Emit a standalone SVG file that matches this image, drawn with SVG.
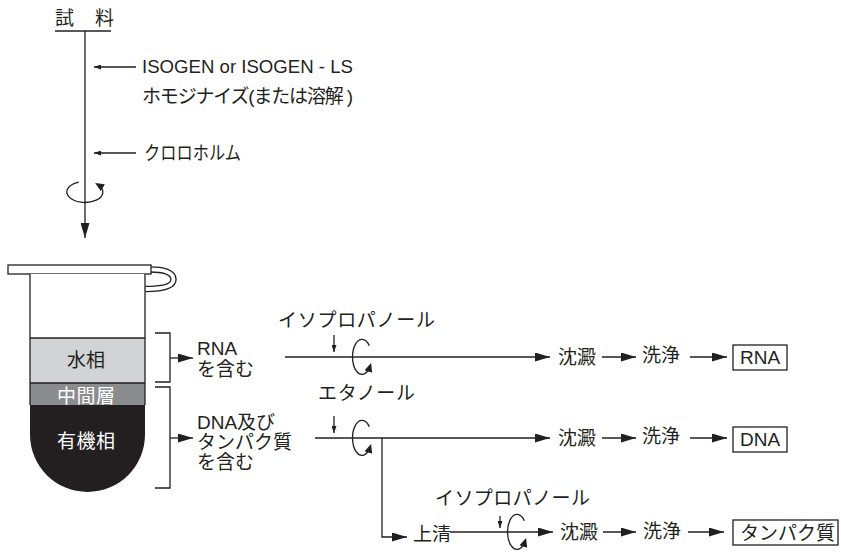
<svg xmlns="http://www.w3.org/2000/svg" width="841" height="553" viewBox="0 0 841 553">
  <style>
    .t { font-family: "Liberation Sans", "Noto Sans CJK JP", sans-serif; font-size: 19px; fill: #231f20; }
    .w { fill: #ffffff; }
    .ln { stroke: #231f20; stroke-width: 1.3; fill: none; }
    .big { marker-end: url(#ah); }
    .small { marker-end: url(#sh); }
    .spin { stroke: #231f20; stroke-width: 1.3; fill: none; marker-end: url(#rh); }
  </style>
  <defs>
    <marker id="ah" markerUnits="userSpaceOnUse" markerWidth="15" markerHeight="9" refX="15" refY="4.5" orient="auto">
      <path d="M0,0 L15,4.5 L0,9 Z" fill="#231f20"/>
    </marker>
    <marker id="sh" markerUnits="userSpaceOnUse" markerWidth="7" markerHeight="5" refX="7" refY="2.5" orient="auto">
      <path d="M0,0 L7,2.5 L0,5 Z" fill="#231f20"/>
    </marker>
    <marker id="rh" markerUnits="userSpaceOnUse" markerWidth="9" markerHeight="8" refX="6" refY="4" orient="auto">
      <path d="M0,0 L9,4 L0,8 Z" fill="#231f20"/>
    </marker>
  </defs>

  <rect width="841" height="553" fill="#ffffff"/>

  <!-- sample heading -->
  <g id="sample">
    <text class="t" x="55" y="25" font-size="18">試</text>
    <text class="t" x="95" y="25" font-size="18">料</text>
    <line class="ln" x1="55" y1="31" x2="111" y2="31"/>
  </g>

  <!-- reagents added to the sample -->
  <g id="reagent-isogen">
    <text class="t" x="142" y="73" font-size="18.5" textLength="211" lengthAdjust="spacingAndGlyphs">ISOGEN or ISOGEN - LS</text>
    <text class="t" x="142" y="103" font-size="18" textLength="211" lengthAdjust="spacing">ホモジナイズ(または溶解 )</text>
  </g>
  <g id="reagent-chloroform">
    <text class="t" x="144" y="160" font-size="17" textLength="97" lengthAdjust="spacingAndGlyphs">クロロホルム</text>
  </g>

  <!-- centrifuge tube with separated phases -->
  <g id="tube">
    <path d="M147,269.5 C163,269 173.5,272 173.5,279.5 C173.5,287 160,289 145.5,289" stroke="#231f20" stroke-width="6.5" fill="none"/>
    <path d="M147,269.5 C163,269 173.5,272 173.5,279.5 C173.5,287 160,289 145.5,289" stroke="#ffffff" stroke-width="3.8" fill="none"/>
    <rect x="8" y="265" width="143" height="9" fill="#ffffff" stroke="#231f20" stroke-width="1.3"/>
    <rect x="30" y="274" width="115" height="64" fill="#ffffff"/>
    <rect x="30" y="338" width="115" height="45" fill="#d1d3d4"/>
    <rect x="30" y="383" width="115" height="22" fill="#8b8c8e"/>
    <path d="M30,405 L145,405 L145,434.5 A57.5,57.5 0 0 1 30,434.5 Z" fill="#231f20"/>
    <line class="ln" x1="30" y1="274" x2="30" y2="405"/>
    <line class="ln" x1="145" y1="274" x2="145" y2="405"/>
    <line class="ln" x1="30" y1="338" x2="145" y2="338"/>
    <line class="ln" x1="30" y1="383" x2="145" y2="383"/>
    <text class="t" x="86" y="367" text-anchor="middle">水相</text>
    <text class="t w" x="86" y="403" text-anchor="middle" textLength="58" lengthAdjust="spacing">中間層</text>
    <text class="t w" x="86" y="448" text-anchor="middle" textLength="58" lengthAdjust="spacing">有機相</text>
  </g>

  <!-- phase contents -->
  <g id="label-rna-phase">
    <text class="t" x="197" y="355" font-size="18">RNA</text>
    <text class="t" x="197" y="376">を含む</text>
  </g>
  <g id="label-dna-phase">
    <text class="t" x="197" y="429">DNA及び</text>
    <text class="t" x="197" y="449">タンパク質</text>
    <text class="t" x="197" y="469">を含む</text>
  </g>

  <!-- reagent labels on the branches -->
  <g id="reagent-ipa-1">
    <text class="t" x="278" y="327" textLength="157" lengthAdjust="spacing">イソプロパノール</text>
  </g>
  <g id="reagent-ethanol">
    <text class="t" x="318" y="400" textLength="97" lengthAdjust="spacing">エタノール</text>
  </g>
  <g id="reagent-ipa-2">
    <text class="t" x="435" y="505" textLength="155" lengthAdjust="spacing">イソプロパノール</text>
  </g>

  <!-- process steps -->
  <g id="rna-steps">
    <text class="t" x="558" y="364">沈澱</text>
    <text class="t" x="642" y="362">洗浄</text>
    <rect x="733" y="345" width="54" height="25" fill="none" stroke="#231f20" stroke-width="1.3"/>
    <text class="t" x="760" y="364" text-anchor="middle">RNA</text>
  </g>
  <g id="dna-steps">
    <text class="t" x="558" y="445">沈澱</text>
    <text class="t" x="642" y="443">洗浄</text>
    <rect x="733" y="427" width="54" height="25" fill="none" stroke="#231f20" stroke-width="1.3"/>
    <text class="t" x="760" y="446" text-anchor="middle">DNA</text>
  </g>
  <g id="protein-steps">
    <text class="t" x="413" y="541">上清</text>
    <text class="t" x="560" y="539">沈澱</text>
    <text class="t" x="643" y="538">洗浄</text>
    <rect x="733" y="520" width="105" height="25" fill="none" stroke="#231f20" stroke-width="1.3"/>
    <text class="t" x="740" y="540" textLength="95" lengthAdjust="spacing">タンパク質</text>
  </g>

  <!-- connectors -->
  <g id="connectors">
    <!-- main sample line -->
    <line class="ln big" x1="85" y1="31" x2="85" y2="238"/>
    <line class="ln small" x1="136" y1="67" x2="94" y2="67"/>
    <line class="ln small" x1="136" y1="153" x2="94" y2="153"/>
    <path class="spin" d="M78.8,182.1 A18,10.5 0 1 0 97.7,184.6"/>

    <!-- phase brackets -->
    <polyline class="ln" points="155,333 170,333 170,382 155,382"/>
    <line class="ln big" x1="170" y1="358" x2="193" y2="358"/>
    <polyline class="ln" points="155,387 170,387 170,488 155,488"/>
    <line class="ln big" x1="170" y1="438" x2="193" y2="438"/>

    <!-- RNA branch -->
    <line class="ln big" x1="285" y1="357" x2="550" y2="357"/>
    <line class="ln small" x1="334" y1="335" x2="334" y2="352"/>
    <path class="spin" d="M369.3,345.7 A9.5,17.5 0 1 0 370.2,365.8"/>
    <line class="ln big" x1="602" y1="357" x2="636" y2="357"/>
    <line class="ln big" x1="690" y1="357" x2="727" y2="357"/>

    <!-- DNA branch -->
    <line class="ln big" x1="315" y1="438" x2="550" y2="438"/>
    <line class="ln small" x1="334" y1="416" x2="334" y2="433"/>
    <path class="spin" d="M369.3,426.7 A9.5,17.5 0 1 0 370.2,446.8"/>
    <line class="ln big" x1="602" y1="438" x2="636" y2="438"/>
    <line class="ln big" x1="690" y1="438" x2="727" y2="438"/>

    <!-- supernatant branch -->
    <polyline class="ln big" points="382,438 382,537 407,537"/>
    <line class="ln big" x1="450" y1="532" x2="553" y2="532"/>
    <line class="ln small" x1="500" y1="516" x2="500" y2="528"/>
    <path class="spin" d="M524.3,520.7 A9.5,17.5 0 1 0 525.2,540.8"/>
    <line class="ln big" x1="603" y1="532" x2="636" y2="532"/>
    <line class="ln big" x1="688" y1="532" x2="724" y2="532"/>
  </g>
</svg>
